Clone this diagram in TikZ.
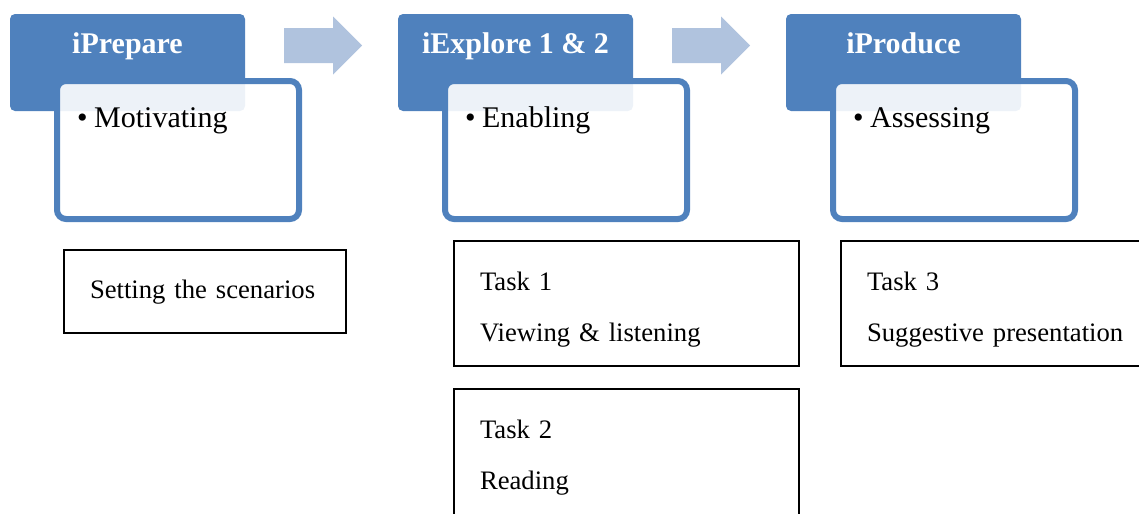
\documentclass[tikz,border=0pt]{standalone}
\usepackage{fontspec}
\setmainfont{Liberation Serif}
\usetikzlibrary{calc}

\definecolor{hdrblue}{RGB}{79,129,189}
\definecolor{flowblue}{RGB}{176,195,222}

\begin{document}
\begin{tikzpicture}[x=0.75pt,y=-0.75pt,
  hdr/.style={fill=hdrblue,rounded corners=3.75pt,anchor=north west,minimum width=176.25pt,inner xsep=0pt,inner ysep=0pt,outer sep=0pt,
    text height=29.25pt,text depth=43.5pt,text=white,font=\fontsize{22.5}{27}\selectfont\bfseries},
  pane/.style={draw=hdrblue,line width=4.5pt,rounded corners=6.75pt,fill=white,fill opacity=0.9,text opacity=1,anchor=north west,
    inner xsep=15pt,inner ysep=0pt,outer sep=0pt,text width=151.5pt,text height=34.5pt,text depth=69pt,align=left,font=\fontsize{22.5}{27}\selectfont},
  task/.style={draw,line width=1.5pt,anchor=north west,inner xsep=19.5pt,inner ysep=0pt,outer sep=0pt,align=left,
    font=\fontsize{20}{38.25}\selectfont},
  flow/.style={fill=flowblue}
]
\useasboundingbox (0,0) rectangle (1139,514);
\clip (0,0) rectangle (1139,514);

% stage headers
\node[hdr] (h1) at (10,14) {iPrepare};
\node[hdr] (h2) at (398,14) {iExplore 1 \& 2};
\node[hdr] (h3) at (786,14) {iProduce};

% block arrows between the headers
\foreach \a/\b in {h1/h2,h2/h3}{
  \coordinate (c-\a) at ($(\a.east)!0.5!(\b.west)+(0,-17)$);
  \fill[flow,shift={(c-\a)}] (-37.5,-17.5) -- (11.5,-17.5) -- (11.5,-29) -- (40.5,0)
    -- (11.5,29) -- (11.5,17.5) -- (-37.5,17.5) -- cycle;
}

% bullet panes
\node[pane] (p1) at ($(h1.north west)+(47,67)$) {\textbullet\hspace{5pt}Motivating};
\node[pane] (p2) at ($(h2.north west)+(47,67)$) {\textbullet\hspace{5pt}Enabling};
\node[pane] (p3) at ($(h3.north west)+(47,67)$) {\textbullet\hspace{5pt}Assessing};

% task boxes
\node[task,text width=172.5pt,text height=36pt,text depth=26.25pt] (scen) at (64,250) {Setting the scenarios};
\node[task,text width=219.75pt,text height=36.75pt,text depth=57pt] (t1) at (454,241) {Task 1\\Viewing \& listening};
\node[task,text width=219.75pt,text height=36.75pt,text depth=68.25pt] (t2) at (454,389) {Task 2\\Reading};
\node[task,text width=201pt,text height=36.75pt,text depth=57pt] (t3) at (841,241) {Task 3\\Suggestive presentation};
\end{tikzpicture}
\end{document}
